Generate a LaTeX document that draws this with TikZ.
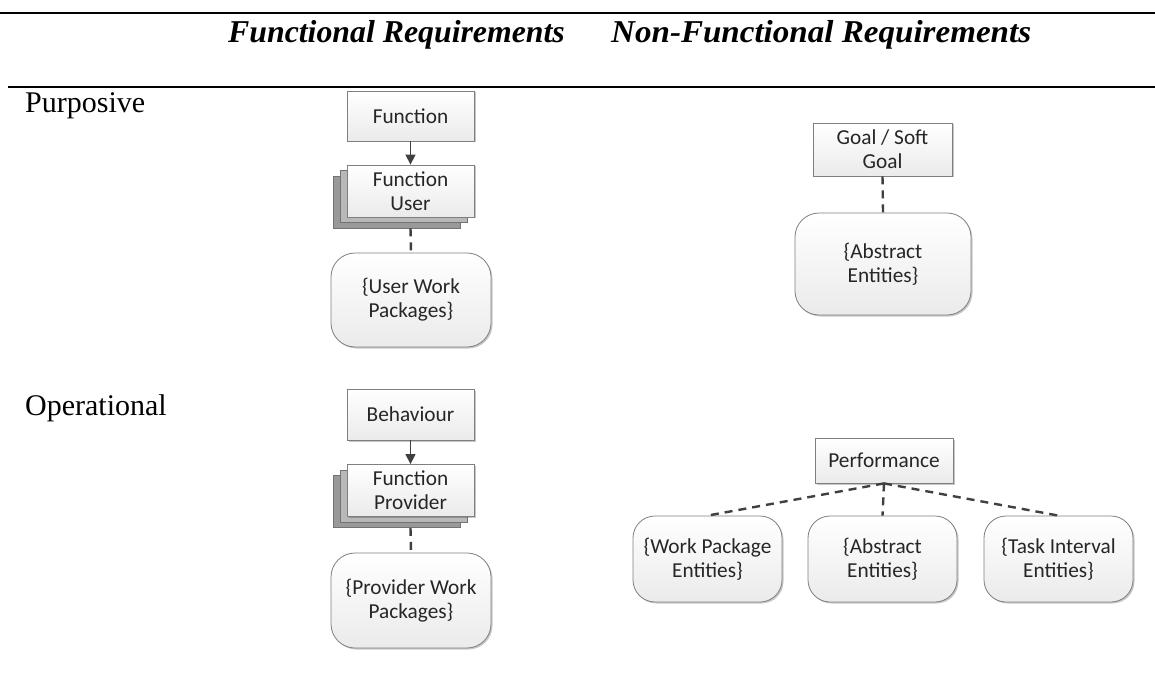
\documentclass[tikz,border=0pt]{standalone}
\usepackage{fontspec}
\setmainfont{Liberation Serif}
\newfontfamily\boxfont{Carlito}
\usetikzlibrary{arrows.meta,shadows}
\definecolor{edge}{HTML}{7F7F7F}
\definecolor{ink}{HTML}{404040}
\begin{document}
\begin{tikzpicture}[x=1pt,y=-1pt,
  boxtext/.style={font=\boxfont\fontsize{21.3}{24}\selectfont, align=center, text=black!85},
  sqbox/.style={boxtext, draw=edge, line width=0.8pt, rectangle, inner sep=0pt,
    top color=white, bottom color=black!8,
    drop shadow={shadow xshift=1.5pt, shadow yshift=-1.5pt, opacity=0.22, fill=black}},
  rndbox/.style={sqbox, rounded corners=24pt},
  layerA/.style={draw=black!55, fill=black!28, line width=0.8pt, rectangle, inner sep=0pt},
  layerB/.style={draw=black!55, fill=black!40, line width=0.8pt, rectangle, inner sep=0pt},
  link/.style={draw=ink, line width=1.4pt, -{Triangle[length=10pt,width=10pt]}},
  dashlink/.style={draw=ink, line width=2.4pt, dash pattern=on 8pt off 6pt},
  rowlabel/.style={font=\fontsize{30}{32}\selectfont, anchor=base west, inner sep=0pt},
  colhead/.style={font=\fontsize{31.8}{34}\selectfont\bfseries\itshape, anchor=base west, inner sep=0pt}
]
\useasboundingbox (0,0) rectangle (1155,684);

% table rules and headings
\draw[line width=2.4pt] (0,13) -- (1155,13);
\draw[line width=2.4pt] (8,87) -- (1155,87);
\node[colhead] (hf) at (228,43) {Functional Requirements};
\node[colhead, xscale=1.04] (hnf) at (611,43) {Non-Functional Requirements};
\node[rowlabel] (rp) at (25,113) {Purposive};
\node[rowlabel] (ro) at (25,415) {Operational};

% functional, purposive
\node[sqbox, minimum width=127pt, minimum height=50pt] (fn) at (410.5,116) {Function};
\node[layerB, minimum width=127pt, minimum height=52pt] (fu3) at (396.5,202) {};
\node[layerA, minimum width=127pt, minimum height=52pt] (fu2) at (403.5,196.5) {};
\node[sqbox, minimum width=127pt, minimum height=52pt] (fu) at (410.5,191) {Function\\User};
\node[rndbox, minimum width=160pt, minimum height=94pt] (uwp) at (411,300) {\{User Work\\Packages\}};
\draw[link] (fn.south) -- (fu.north);
\draw[dashlink] (fu.south |- fu3.south) -- (uwp.north);

% functional, operational
\node[sqbox, minimum width=127pt, minimum height=51pt] (bh) at (410.5,414.5) {Behaviour};
\node[layerB, minimum width=127pt, minimum height=52pt] (fp3) at (396.5,501.5) {};
\node[layerA, minimum width=127pt, minimum height=52pt] (fp2) at (403.5,496) {};
\node[sqbox, minimum width=127pt, minimum height=52pt] (fp) at (410.5,490.5) {Function\\Provider};
\node[rndbox, minimum width=160pt, minimum height=95pt] (pwp) at (411,600.5) {\{Provider Work\\Packages\}};
\draw[link] (bh.south) -- (fp.north);
\draw[dashlink] (fp.south |- fp3.south) -- (pwp.north);

% non-functional, purposive
\node[sqbox, minimum width=139pt, minimum height=53pt] (goal) at (882.5,149.5) {Goal / Soft\\Goal};
\node[rndbox, minimum width=176pt, minimum height=102pt] (ae) at (883,264) {\{Abstract\\Entities\}};
\draw[dashlink] (goal.south) -- (ae.north);

% non-functional, operational
\node[sqbox, minimum width=138pt, minimum height=45pt] (perf) at (884,460.5) {Performance};
\node[rndbox, rounded corners=22pt, minimum width=149pt, minimum height=86pt] (wpe) at (707.5,559) {\{Work Package\\Entities\}};
\node[rndbox, rounded corners=22pt, minimum width=149pt, minimum height=86pt] (ae2) at (882.5,559) {\{Abstract\\Entities\}};
\node[rndbox, rounded corners=22pt, minimum width=149pt, minimum height=86pt] (tie) at (1058.5,559) {\{Task Interval\\Entities\}};
\draw[dashlink] (perf.south) -- (wpe.north);
\draw[dashlink] (perf.south) -- (ae2.north);
\draw[dashlink] (perf.south) -- (tie.north);
\end{tikzpicture}
\end{document}
